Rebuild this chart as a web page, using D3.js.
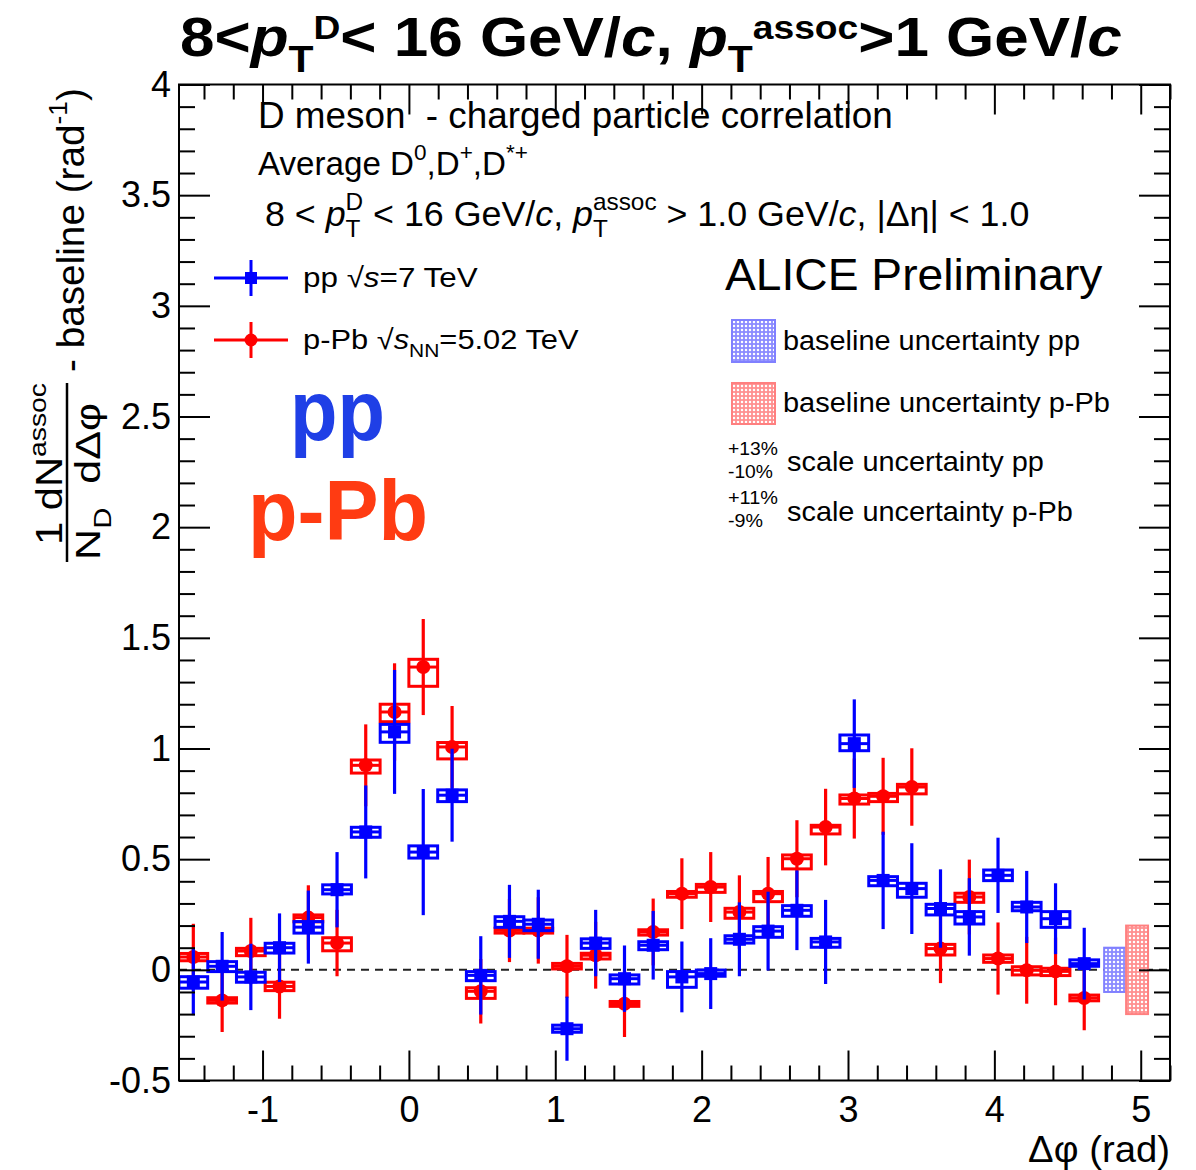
<!DOCTYPE html>
<html>
<head>
<meta charset="utf-8">
<script src="https://cdn.jsdelivr.net/npm/d3@7"></script>
<style>
  body { margin: 0; background: #fff; }
  svg { display: block; }
  text { font-family: "Liberation Sans", Arial, Helvetica, sans-serif; fill: #000; white-space: pre; }
</style>
</head>
<body>
<svg id="chart" width="1196" height="1170"></svg>
<script>
// Δφ bin centres (32 bins of width π/16 from -π/2 to 3π/2)
const dphi = [-1.473, -1.276, -1.080, -0.884, -0.687, -0.491, -0.295, -0.098,
               0.098,  0.295,  0.491,  0.687,  0.884,  1.080,  1.276,  1.473,
               1.669,  1.865,  2.062,  2.258,  2.454,  2.651,  2.847,  3.043,
               3.240,  3.436,  3.632,  3.829,  4.025,  4.221,  4.418,  4.614];

// pp, sqrt(s) = 7 TeV
const ppValue = [-0.055, 0.016, -0.032, 0.100, 0.193, 0.362, 0.623, 1.075,
                  0.532, 0.789, -0.025, 0.219, 0.206, -0.266, 0.121, -0.040,
                  0.111, -0.032, -0.017, 0.138, 0.175, 0.269, 0.126, 1.022,
                  0.404, 0.367, 0.277, 0.239, 0.427, 0.284, 0.231, 0.028];
const ppStat = [0.150, 0.155, 0.150, 0.155, 0.165, 0.170, 0.210, 0.280,
                0.285, 0.210, 0.177, 0.165, 0.156, 0.145, 0.150, 0.150,
                0.155, 0.160, 0.160, 0.167, 0.178, 0.180, 0.190, 0.200,
                0.220, 0.205, 0.177, 0.175, 0.170, 0.163, 0.160, 0.162];
const ppSysUp = [0.024, 0.021, 0.021, 0.020, 0.025, 0.022, 0.021, 0.034,
                 0.028, 0.024, 0.017, 0.021, 0.019, 0.016, 0.019, 0.017,
                 0.016, 0.024, 0.016, 0.016, 0.020, 0.021, 0.016, 0.039,
                 0.017, 0.024, 0.019, 0.024, 0.024, 0.021, 0.032, 0.017];
const ppSysDown = [0.028, 0.024, 0.024, 0.024, 0.027, 0.019, 0.024, 0.047,
                   0.027, 0.029, 0.024, 0.027, 0.029, 0.016, 0.024, 0.024,
                   0.020, 0.047, 0.012, 0.017, 0.028, 0.027, 0.024, 0.032,
                   0.024, 0.039, 0.029, 0.032, 0.024, 0.017, 0.039, 0.012];

// p-Pb, sqrt(s_NN) = 5.02 TeV
const pPbValue = [0.058, -0.138, 0.085, -0.075, 0.236, 0.121, 0.924, 1.165,
                  1.368, 1.007, -0.097, 0.178, 0.178, 0.016, 0.066, -0.153,
                  0.171, 0.344, 0.374, 0.261, 0.344, 0.502, 0.645, 0.774,
                  0.784, 0.826, 0.096, 0.329, 0.051, -0.002, -0.007, -0.127];
const pPbStat = [0.150, 0.143, 0.150, 0.146, 0.146, 0.150, 0.185, 0.220,
                 0.217, 0.185, 0.146, 0.143, 0.150, 0.142, 0.151, 0.151,
                 0.151, 0.160, 0.158, 0.166, 0.166, 0.174, 0.173, 0.181,
                 0.174, 0.175, 0.156, 0.169, 0.163, 0.151, 0.153, 0.146];
const pPbSysUp = [0.016, 0.012, 0.012, 0.019, 0.012, 0.024, 0.024, 0.035,
                  0.035, 0.020, 0.016, 0.010, 0.010, 0.013, 0.009, 0.010,
                  0.010, 0.010, 0.012, 0.017, 0.010, 0.017, 0.008, 0.016,
                  0.013, 0.012, 0.019, 0.017, 0.016, 0.016, 0.014, 0.013];
const pPbSysDown = [0.017, 0.012, 0.021, 0.019, 0.019, 0.035, 0.035, 0.044,
                    0.087, 0.054, 0.032, 0.012, 0.012, 0.012, 0.017, 0.012,
                    0.014, 0.016, 0.024, 0.028, 0.036, 0.046, 0.031, 0.025,
                    0.024, 0.031, 0.029, 0.024, 0.017, 0.021, 0.019, 0.013];

// baseline uncertainty bands drawn at the right edge
const baselineFrom = [4.75, 4.90];
const baselineTo   = [4.90, 5.05];
const baselineUnc  = [0.10, 0.20];

// axis ticks
const xTicks = [-1, 0, 1, 2, 3, 4, 5];
const yTicks = [-0.5, 0, 0.5, 1, 1.5, 2, 2.5, 3, 3.5, 4];

const BLUE = "#0000ff", RED = "#ff0000";
const FONT = "\"Liberation Sans\", Arial, Helvetica, sans-serif";

const svg = d3.select("#chart");
const x = d3.scaleLinear().domain([-Math.PI / 2, 5.2]).range([179, 1170]);
const y = d3.scaleLinear().domain([-0.5, 4]).range([1080.5, 84.5]);
const binHalf = Math.PI / 32;

// ---------- rich text helpers ----------
function rich(textSel, segs, size, sc) {
  let shift = 0, prevLen = 0;
  segs.forEach(([t, kind]) => {
    const k = (kind || "").split(" ");
    const ts = textSel.append("tspan").text(t);
    let target = 0, fs = size;
    if (k.includes("sub")) { target = sc.sub * size; fs = sc.subSize * size; }
    if (k.includes("sup")) { target = -sc.sup * size; fs = sc.supSize * size; }
    ts.attr("dy", target - shift).attr("font-size", fs);
    shift = target;
    if (k.includes("i")) ts.attr("font-style", "italic");
    if (k.includes("stack")) ts.attr("dx", -prevLen);
    prevLen = ts.node().getComputedTextLength();
  });
  return textSel;
}

// place a text at (px,py), optionally rotated, squeezed to a given width
function label(px, py, segs, opt) {
  const o = Object.assign({ size: 30, anchor: "start", width: null, rotate: 0, weight: "normal", fill: "#000",
    sub: 0.30, subSize: 0.68, sup: 0.45, supSize: 0.68 }, opt);
  const g = svg.append("g").attr("transform", `translate(${px},${py}) rotate(${o.rotate})`);
  const t = g.append("text").attr("text-anchor", o.anchor).attr("font-size", o.size)
    .attr("font-weight", o.weight).style("fill", o.fill);
  rich(t, typeof segs === "string" ? [[segs, ""]] : segs, o.size, o);
  if (o.width) {
    const w = t.node().getBBox().width;
    t.attr("transform", `scale(${o.width / w},1)`);
  }
  return t;
}

// ---------- patterns ----------
const defs = svg.append("defs");
function dotPattern(id, ink) {
  const p = defs.append("pattern").attr("id", id).attr("patternUnits", "userSpaceOnUse")
    .attr("width", 4).attr("height", 4);
  p.append("rect").attr("width", 4).attr("height", 4).attr("fill", ink);
  p.append("circle").attr("cx", 2).attr("cy", 2).attr("r", 1.25).attr("fill", "#fff");
}
dotPattern("dotsBlue", "#8c8cff");
dotPattern("dotsRed", "#ff9090");
defs.append("clipPath").attr("id", "frameClip").append("rect")
  .attr("x", x.range()[0]).attr("y", y.range()[1])
  .attr("width", x.range()[1] - x.range()[0]).attr("height", y.range()[0] - y.range()[1]);

// ---------- plot contents ----------
const plot = svg.append("g").attr("clip-path", "url(#frameClip)");

// zero line
plot.append("line")
  .attr("x1", x.range()[0]).attr("x2", x.range()[1]).attr("y1", y(0)).attr("y2", y(0))
  .attr("stroke", "#222").attr("stroke-width", 2).attr("stroke-dasharray", "8,6");

// baseline uncertainty bands
const bands = baselineFrom.map((f, i) => ({ f, t: baselineTo[i], e: baselineUnc[i], fill: i === 0 ? "url(#dotsBlue)" : "url(#dotsRed)", line: i === 0 ? "#8080ff" : "#ff8080" }));
plot.selectAll("rect.band").data(bands).join("rect").attr("class", "band")
  .attr("x", d => x(d.f)).attr("width", d => x(d.t) - x(d.f))
  .attr("y", d => y(d.e)).attr("height", d => y(-d.e) - y(d.e))
  .attr("fill", d => d.fill).attr("stroke", d => d.line).attr("stroke-width", 2);

function drawSeries(vals, stat, sUp, sDn, color, shape) {
  const rows = dphi.map((d, i) => ({ d, v: vals[i], s: stat[i], up: sUp[i], dn: sDn[i] }));
  const g = plot.append("g");
  // systematic boxes
  g.selectAll("rect.sys").data(rows).join("rect").attr("class", "sys")
    .attr("x", r => x(r.d - binHalf)).attr("width", r => x(r.d + binHalf) - x(r.d - binHalf))
    .attr("y", r => y(r.v + r.up)).attr("height", r => y(r.v - r.dn) - y(r.v + r.up))
    .attr("fill", "none").attr("stroke", color).attr("stroke-width", 3);
  // horizontal bars
  g.selectAll("line.h").data(rows).join("line").attr("class", "h")
    .attr("x1", r => x(r.d - binHalf)).attr("x2", r => x(r.d + binHalf))
    .attr("y1", r => y(r.v)).attr("y2", r => y(r.v))
    .attr("stroke", color).attr("stroke-width", 3);
  // statistical error bars
  g.selectAll("line.v").data(rows).join("line").attr("class", "v")
    .attr("x1", r => x(r.d)).attr("x2", r => x(r.d))
    .attr("y1", r => y(r.v + r.s)).attr("y2", r => y(r.v - r.s))
    .attr("stroke", color).attr("stroke-width", 3.2);
  // markers
  if (shape === "square") {
    g.selectAll("rect.m").data(rows).join("rect").attr("class", "m")
      .attr("x", r => x(r.d) - 6.5).attr("y", r => y(r.v) - 6.5)
      .attr("width", 13).attr("height", 13).attr("fill", color);
  } else {
    g.selectAll("circle.m").data(rows).join("circle").attr("class", "m")
      .attr("cx", r => x(r.d)).attr("cy", r => y(r.v)).attr("r", 7).attr("fill", color);
  }
}
drawSeries(pPbValue, pPbStat, pPbSysUp, pPbSysDown, RED, "circle");
drawSeries(ppValue, ppStat, ppSysUp, ppSysDown, BLUE, "square");

// ---------- axes ----------
const x0 = x.range()[0], x1 = x.range()[1], yTop = y.range()[1], yBot = y.range()[0];
const xMinor = d3.range(-1.4, 5.21, 0.2).filter(v => Math.abs(v - Math.round(v)) > 0.01);
const yMinor = d3.range(-0.4, 4.0, 0.1).filter(v => Math.abs(v * 2 - Math.round(v * 2)) > 0.01);

function styleAxis(g) {
  g.select(".domain").remove();
  g.selectAll(".tick line").attr("stroke", "#000").attr("stroke-width", 2);
  g.selectAll("text").attr("font-family", FONT).attr("font-size", 36).style("fill", "#000");
}
svg.append("g").attr("transform", `translate(0,${yBot})`)
  .call(d3.axisBottom(x).tickValues(xTicks).tickSize(-30).tickPadding(16).tickFormat(d => String(d)))
  .call(styleAxis);
svg.append("g").attr("transform", `translate(0,${yBot})`)
  .call(d3.axisBottom(x).tickValues(xMinor).tickSize(-15).tickFormat("")).call(styleAxis);
svg.append("g").attr("transform", `translate(0,${yTop})`)
  .call(d3.axisTop(x).tickValues(xTicks).tickSize(-30).tickFormat("")).call(styleAxis);
svg.append("g").attr("transform", `translate(0,${yTop})`)
  .call(d3.axisTop(x).tickValues(xMinor).tickSize(-15).tickFormat("")).call(styleAxis);
svg.append("g").attr("transform", `translate(${x0},0)`)
  .call(d3.axisLeft(y).tickValues(yTicks).tickSize(-31).tickPadding(8).tickFormat(d => String(d)))
  .call(styleAxis);
svg.append("g").attr("transform", `translate(${x0},0)`)
  .call(d3.axisLeft(y).tickValues(yMinor).tickSize(-16).tickFormat("")).call(styleAxis);
svg.append("g").attr("transform", `translate(${x1},0)`)
  .call(d3.axisRight(y).tickValues(yTicks).tickSize(-31).tickFormat("")).call(styleAxis);
svg.append("g").attr("transform", `translate(${x1},0)`)
  .call(d3.axisRight(y).tickValues(yMinor).tickSize(-16).tickFormat("")).call(styleAxis);

// frame
svg.append("rect").attr("x", x0).attr("y", yTop).attr("width", x1 - x0).attr("height", yBot - yTop)
  .attr("fill", "none").attr("stroke", "#000").attr("stroke-width", 2);

// ---------- titles ----------
label(180, 56, [["8<", ""], ["p", "i"], ["T", "sub"], ["D", "sup"], ["< 16 GeV/", ""], ["c", "i"], [", ", ""],
  ["p", "i"], ["T", "sub"], ["assoc", "sup"], [">1 GeV/", ""], ["c", "i"]],
  { size: 56, weight: "bold", width: 942, sub: 0.28, subSize: 0.66, sup: 0.30, supSize: 0.6 });

label(1170, 1162, "Δφ (rad)", { size: 36, anchor: "end", width: 142 });

// y-axis title: (1/N_D) dN^assoc/dΔφ - baseline (rad^-1)
label(62, 545, [["1 dN", ""], ["assoc", "sup"]], { size: 36, rotate: -90, width: 162 });
label(100, 560, [["N", ""], ["D", "sub"], ["  dΔφ", ""]], { size: 36, rotate: -90, width: 157 });
svg.append("line").attr("x1", 67).attr("x2", 67).attr("y1", 383).attr("y2", 562)
  .attr("stroke", "#000").attr("stroke-width", 2.5);
label(84, 372, [["- baseline (rad", ""], ["-1", "sup"], [")", ""]], { size: 38, rotate: -90, width: 284 });

// ---------- annotations ----------
label(258, 128, "D meson  - charged particle correlation", { size: 37, width: 635 });
label(258, 175, [["Average D", ""], ["0", "sup"], [",D", ""], ["+", "sup"], [",D", ""], ["*+", "sup"]], { size: 33, width: 270 });
label(265, 226, [["8 < ", ""], ["p", "i"], ["T", "sub"], ["D", "sup stack"], [" < 16 GeV/", ""], ["c", "i"], [", ", ""],
  ["p", "i"], ["T", "sub"], ["assoc", "sup stack"], [" > 1.0 GeV/", ""], ["c", "i"], [", |Δη| < 1.0", ""]],
  { size: 35, width: 762 });
label(725, 290, "ALICE Preliminary", { size: 45, width: 378 });

// legend: data series
const legendRows = [
  { y: 278, color: BLUE, shape: "square", segs: [["pp √", ""], ["s", "i"], ["=7 TeV", ""]], w: 175 },
  { y: 340, color: RED, shape: "circle", segs: [["p-Pb √", ""], ["s", "i"], ["NN", "sub"], ["=5.02 TeV", ""]], w: 276 }
];
legendRows.forEach(r => {
  svg.append("line").attr("x1", 214).attr("x2", 288).attr("y1", r.y).attr("y2", r.y)
    .attr("stroke", r.color).attr("stroke-width", 3);
  svg.append("line").attr("x1", 251).attr("x2", 251).attr("y1", r.y - 18).attr("y2", r.y + 18)
    .attr("stroke", r.color).attr("stroke-width", 3);
  if (r.shape === "square") {
    svg.append("rect").attr("x", 245).attr("y", r.y - 6).attr("width", 12).attr("height", 12).attr("fill", r.color);
  } else {
    svg.append("circle").attr("cx", 251).attr("cy", r.y).attr("r", 6.5).attr("fill", r.color);
  }
  label(303, r.y + 9, r.segs, { size: 28, width: r.w });
});

// legend: baseline / scale uncertainties
svg.append("rect").attr("x", 732).attr("y", 320).attr("width", 43).attr("height", 42)
  .attr("fill", "url(#dotsBlue)").attr("stroke", "#8080ff").attr("stroke-width", 2);
svg.append("rect").attr("x", 732).attr("y", 383).attr("width", 43).attr("height", 41)
  .attr("fill", "url(#dotsRed)").attr("stroke", "#ff8080").attr("stroke-width", 2);
label(783, 350, "baseline uncertainty pp", { size: 28, width: 297 });
label(783, 412, "baseline uncertainty p-Pb", { size: 28, width: 327 });
label(728, 455, "+13%", { size: 18, width: 50 });
label(728, 478, "-10%", { size: 18, width: 45 });
label(787, 471, "scale uncertainty pp", { size: 28, width: 257 });
label(728, 504, "+11%", { size: 18, width: 50 });
label(728, 527, "-9%", { size: 18, width: 35 });
label(787, 521, "scale uncertainty p-Pb", { size: 28, width: 286 });

// big system labels
label(290, 440, "pp", { size: 86, weight: "bold", width: 95, fill: "#1f3fe6" });
label(248, 540, "p-Pb", { size: 86, weight: "bold", width: 180, fill: "#ff3b12" });
</script>
</body>
</html>
